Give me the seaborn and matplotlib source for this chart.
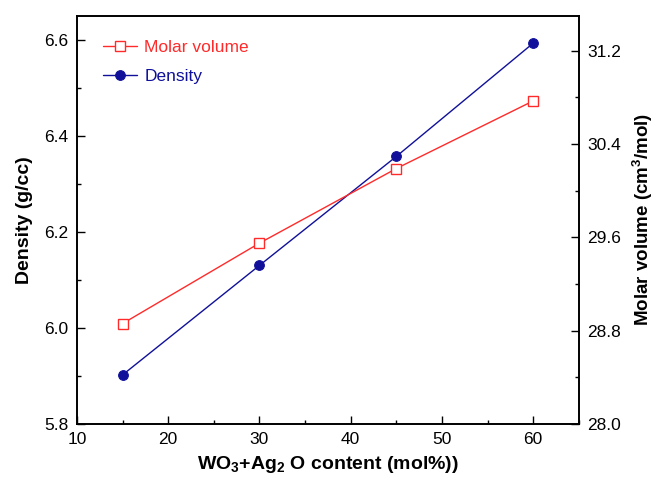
import matplotlib
matplotlib.use("Agg")
import matplotlib.pyplot as plt
import seaborn as sns
import pandas as pd
from matplotlib.ticker import MultipleLocator

content = [15, 30, 45, 60]
density = [5.902, 6.130, 6.357, 6.593]
molar_volume = [28.86, 29.55, 30.19, 30.77]

sns.set_theme(style="white")
plt.rcParams['font.family'] = ['Liberation Sans', 'DejaVu Sans']
plt.rcParams['mathtext.fontset'] = 'custom'
plt.rcParams['mathtext.rm'] = 'Liberation Sans'
plt.rcParams['mathtext.bf'] = 'Liberation Sans:bold'
plt.rcParams['mathtext.it'] = 'Liberation Sans:italic'
plt.rcParams['text.color'] = 'black'
plt.rcParams['axes.labelcolor'] = 'black'

df = pd.DataFrame({"content": content, "density": density, "mv": molar_volume})

fig = plt.figure(figsize=(6.57, 4.79), dpi=100)
ax = fig.add_axes([0.117, 0.115, 0.764, 0.852])
ax2 = ax.twinx()

red = "#ff2a2a"
blue = "#10109a"

sns.lineplot(data=df, x="content", y="density", ax=ax, color=blue, lw=1.0,
             marker="o", markersize=7, markerfacecolor=blue, markeredgecolor=blue)
sns.lineplot(data=df, x="content", y="mv", ax=ax2, color=red, lw=1.0,
             marker="s", markersize=6.5, markerfacecolor="white", markeredgecolor=red,
             markeredgewidth=1.0)

ax.set_xlim(10, 65)
ax.set_ylim(5.8, 6.65)
ax2.set_ylim(28.0, 31.5)

ax.xaxis.set_major_locator(MultipleLocator(10))
ax.xaxis.set_minor_locator(MultipleLocator(5))
ax.yaxis.set_major_locator(MultipleLocator(0.2))
ax.yaxis.set_minor_locator(MultipleLocator(0.1))
ax2.yaxis.set_major_locator(MultipleLocator(0.8))
ax2.yaxis.set_minor_locator(MultipleLocator(0.4))

ax.set_yticklabels([f"{v:.1f}" for v in ax.get_yticks()])
ax2.set_yticklabels([f"{v:.1f}" for v in ax2.get_yticks()])

for a in (ax, ax2):
    for s in a.spines.values():
        s.set_color("black")
        s.set_linewidth(1.2)
    a.tick_params(which="both", direction="in", colors="black", labelsize=12.5, width=1.0,
                  pad=6)
    a.tick_params(which="major", length=6)
    a.tick_params(which="minor", length=3)
ax.tick_params(axis="both", which="both", top=False, right=False, bottom=True, left=True)
ax2.tick_params(axis="y", which="both", left=False, right=True)

ax.set_xlabel(r"WO$_\mathbf{3}$+Ag$_\mathbf{2}$ O content (mol%))", fontsize=14,
              fontweight="bold", labelpad=5)
ax.set_ylabel("Density (g/cc)", fontsize=14, fontweight="bold", labelpad=8)
ax2.set_ylabel(r"Molar volume (cm$^\mathbf{3}$/mol)", fontsize=13.5, fontweight="bold",
               labelpad=7)

h_mv = ax2.get_lines()[0]
h_d = ax.get_lines()[0]
leg = ax.legend([h_mv, h_d], ["Molar volume", "Density"], loc="upper left",
                frameon=False, fontsize=12.5, handlelength=2.0, handletextpad=0.4,
                labelspacing=0.8, bbox_to_anchor=(0.02, 0.98))
for t, c in zip(leg.get_texts(), [red, blue]):
    t.set_color(c)

ax.grid(False)
ax2.grid(False)
fig.savefig("out.png", dpi=100)
